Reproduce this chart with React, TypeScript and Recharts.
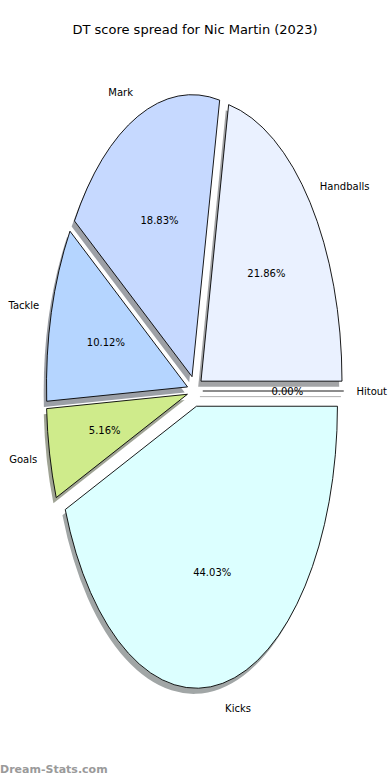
import { PieChart, Pie, Sector } from 'recharts'

const CATEGORIES = ['Handballs', 'Mark', 'Tackle', 'Goals', 'Kicks', 'Hitout']
const SHARES = [21.86, 18.83, 10.12, 5.16, 44.03, 0]
const COLORS = ['#eaf1ff', '#c6d9ff', '#b5d5ff', '#cfeb8b', '#dcffff', '#ffffff']

const data = CATEGORIES.map((name, i) => ({ name, value: SHARES[i] }))

const W = 390
const H = 780
const CX = 195
const CY = 391
const R = 141
const K = 2.0 // axes are not equal, pie is stretched vertically
const EXPLODE = 0.055
const SHADOW = 0.02
const RAD = Math.PI / 180
const FONT = '"DejaVu Sans", sans-serif'

// matplotlib shadow: 0.3 * colour at alpha 0.5
function shade(hex: string) {
  const n = parseInt(hex.slice(1), 16)
  const ch = [(n >> 16) & 255, (n >> 8) & 255, n & 255].map((c) => Math.round(127.5 + 0.15 * c))
  return `rgb(${ch.join(',')})`
}

function wedge(props: any, shadow: boolean) {
  const { cx, cy, outerRadius: r, startAngle, endAngle, midAngle, percent, index, payload } = props
  const cos = Math.cos(-midAngle * RAD)
  const sin = Math.sin(-midAngle * RAD)
  let ax = cx + EXPLODE * r * cos
  let ay = cy + EXPLODE * r * sin
  if (shadow) {
    ax -= SHADOW * r
    ay += SHADOW * r
  }
  const stretch = `translate(0 ${cy}) scale(1 ${K}) translate(0 ${-cy})`
  const sy = (y: number) => cy + K * (y - cy)
  const fill = shadow ? shade(COLORS[index]) : COLORS[index]
  const stroke = shadow ? 'none' : '#000'

  const shape =
    startAngle === endAngle ? (
      <path
        d={`M${ax},${ay}L${ax + r * Math.cos(-startAngle * RAD)},${ay + r * Math.sin(-startAngle * RAD)}`}
        stroke={shadow ? shade(COLORS[index]) : '#000'}
        strokeWidth={0.9}
      />
    ) : (
      <Sector
        cx={ax}
        cy={ay}
        innerRadius={0}
        outerRadius={r}
        startAngle={startAngle}
        endAngle={endAngle}
        fill={fill}
        stroke={stroke}
        strokeWidth={0.9}
      />
    )

  return (
    <g>
      <g className="wedge" transform={stretch}>{shape}</g>
      {!shadow && (
        <>
          <text x={ax + 0.6 * r * cos} y={sy(ay + 0.6 * r * sin)} textAnchor="middle" dominantBaseline="central" fontSize={10} fill="#000">
            {(percent * 100).toFixed(2)}%
          </text>
          <text
            x={ax + 1.09 * r * cos}
            y={sy(ay + 1.09 * r * sin)}
            textAnchor={cos > 0 ? 'start' : 'end'}
            dominantBaseline="central"
            fontSize={10}
            fill="#000"
          >
            {payload.name}
          </text>
        </>
      )}
    </g>
  )
}

export default function App() {
  return (
    <div style={{ position: 'relative', width: W, height: H, fontFamily: FONT, background: '#fff' }}>
      <style>{'body{margin:0} .wedge path{vector-effect:non-scaling-stroke}'}</style>
      <div style={{ position: 'absolute', top: 22, left: 0, width: W, textAlign: 'center', fontSize: 13, lineHeight: '16px', color: '#000' }}>
        DT score spread for Nic Martin (2023)
      </div>
      <PieChart width={W} height={H} margin={{ top: 0, right: 0, bottom: 0, left: 0 }} style={{ fontFamily: FONT }}>
        <Pie
          data={data}
          dataKey="value"
          nameKey="name"
          cx={CX}
          cy={CY}
          outerRadius={R}
          startAngle={0}
          endAngle={360}
          fill="none"
          stroke="none"
          labelLine={false}
          label={(p: any) => wedge(p, true)}
          isAnimationActive={false}
        />
        <Pie
          data={data}
          dataKey="value"
          nameKey="name"
          cx={CX}
          cy={CY}
          outerRadius={R}
          startAngle={0}
          endAngle={360}
          fill="none"
          stroke="none"
          labelLine={false}
          label={(p: any) => wedge(p, false)}
          isAnimationActive={false}
        />
      </PieChart>
      <div style={{ position: 'absolute', top: 762, left: 0, fontSize: 11, fontWeight: 'bold', color: '#9a9a9a', lineHeight: '16px' }}>
        Dream-Stats.com
      </div>
    </div>
  )
}
